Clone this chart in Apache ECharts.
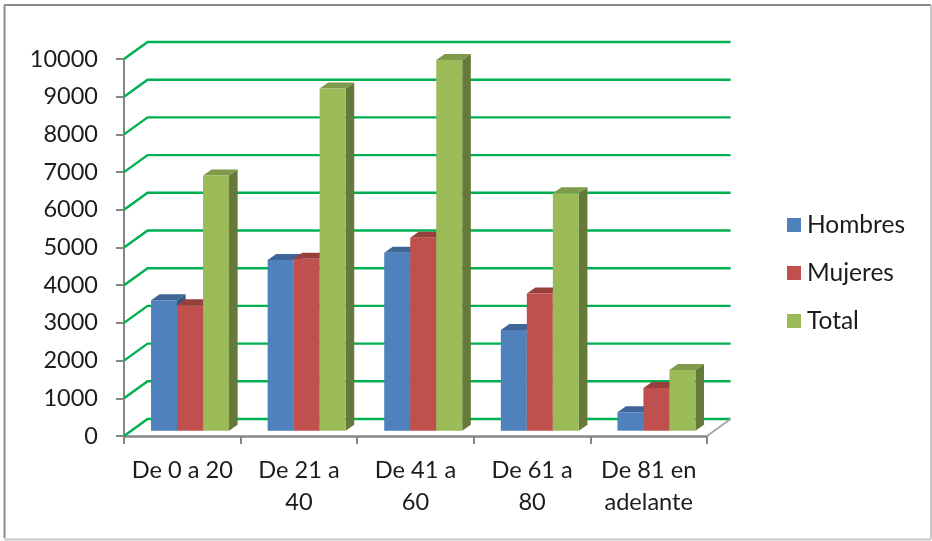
<!DOCTYPE html>
<html>
<head>
<meta charset="utf-8">
<style>html,body{margin:0;padding:0;background:#fff}#c{width:932px;height:541px}</style>
<script src="https://cdn.jsdelivr.net/npm/echarts@6/dist/echarts.min.js"></script>
</head>
<body>
<div id="c"></div>
<script>
const categories = ['De 0 a 20', 'De 21 a\n40', 'De 41 a\n60', 'De 61 a\n80', 'De 81 en\nadelante'];
const hombres = [3460, 4530, 4720, 2670, 490];
const mujeres = [3330, 4560, 5120, 3640, 1130];
const total = [6770, 9080, 9830, 6300, 1610];
const gridValues = [0, 1000, 2000, 3000, 4000, 5000, 6000, 7000, 8000, 9000, 10000];

const FONT = 'Lato, "Open Sans", sans-serif';
const WALL_DX = 23.6, WALL_DY = 17;   // how far the back wall sits behind the axis plane
const PLANE_DX = 7.2, PLANE_DY = 5.3; // how far the bars sit behind the axis plane
const SIDE_DX = 8.6, SIDE_DY = 6;     // depth of each bar
const GREEN_LINE = '#00b050', AXIS_GRAY = '#868686';

// One 3D column: side and top faces, then the front face.
function barRenderer(seriesIndex, front, top, side) {
  return function (params, api) {
    const cat = api.value(0), val = api.value(1);
    const band = api.size([1, 0])[0];
    const w = band * 0.223;
    const x0 = api.coord([cat, 0])[0] - band / 2 + band * 0.17 + PLANE_DX + seriesIndex * w;
    const x1 = x0 + w;
    const yb = api.coord([cat, 0])[1] - PLANE_DY;
    const yt = api.coord([cat, val])[1] - PLANE_DY;
    return {
      type: 'group',
      children: [
        { type: 'polygon', shape: { points: [[x1, yt], [x1 + SIDE_DX, yt - SIDE_DY], [x1 + SIDE_DX, yb - SIDE_DY], [x1, yb]] }, style: { fill: side } },
        { type: 'polygon', shape: { points: [[x0, yt], [x0 + SIDE_DX, yt - SIDE_DY], [x1 + SIDE_DX, yt - SIDE_DY], [x1, yt]] }, style: { fill: top } },
        { type: 'rect', shape: { x: x0, y: yt, width: w, height: yb - yt }, style: { fill: front } }
      ]
    };
  };
}

function barSeries(name, idx, values, front, top, side) {
  return {
    name, type: 'custom', z: 5 + idx, silent: true,
    itemStyle: { color: front },
    encode: { x: 0, y: 1 },
    data: values.map((v, i) => [i, v]),
    renderItem: barRenderer(idx, front, top, side)
  };
}

const chart = echarts.init(document.getElementById('c'), null, { renderer: 'canvas' });
chart.setOption({
  animation: false,
  backgroundColor: '#fff',
  grid: { left: 124, right: 225, top: 59, bottom: 105, containLabel: false },
  legend: {
    orient: 'vertical', left: 787, top: 211, padding: 0, icon: 'rect',
    itemWidth: 14, itemHeight: 14, itemGap: 20, selectedMode: false,
    textStyle: { fontFamily: FONT, fontSize: 24.5, color: '#1c1c1c', lineHeight: 28, padding: [0, 0, 0, 1] },
    data: ['Hombres', 'Mujeres', 'Total']
  },
  xAxis: {
    type: 'category', data: categories,
    axisLine: { lineStyle: { color: AXIS_GRAY, width: 2.5 } },
    axisTick: { show: true, length: 8, alignWithLabel: false, lineStyle: { color: AXIS_GRAY, width: 2 } },
    axisLabel: { interval: 0, margin: 18, fontFamily: FONT, fontSize: 23.6, lineHeight: 32, color: '#1c1c1c', verticalAlign: 'top' }
  },
  yAxis: {
    type: 'value', min: 0, max: 10000, interval: 1000,
    axisLine: { show: true, lineStyle: { color: AXIS_GRAY, width: 2 } },
    axisTick: { show: true, length: 8, lineStyle: { color: AXIS_GRAY, width: 2 } },
    splitLine: { show: false },
    axisLabel: { margin: 26, fontFamily: FONT, fontSize: 23.5, color: '#1c1c1c', padding: [3, 0, 0, 0], formatter: v => String(v) }
  },
  graphic: [
    { type: 'line', shape: { x1: 4.5, y1: 5, x2: 4.5, y2: 538 }, style: { stroke: '#8c8c8c', lineWidth: 2 } },
    { type: 'line', shape: { x1: 4, y1: 5, x2: 931, y2: 5 }, style: { stroke: '#8c8c8c', lineWidth: 2 } },
    { type: 'line', shape: { x1: 931, y1: 5, x2: 931, y2: 539 }, style: { stroke: '#b8b8b8', lineWidth: 1.5 } },
    { type: 'line', shape: { x1: 4, y1: 539.5, x2: 931, y2: 539.5 }, style: { stroke: '#c8c8c8', lineWidth: 2 } }
  ],
  series: [
    {
      // Wall gridlines: each runs back from the value axis, then across the back wall.
      type: 'custom', z: 1, silent: true, name: 'rejilla',
      encode: { y: 0 },
      data: gridValues.map(v => [v]),
      renderItem(params, api) {
        const v = api.value(0);
        const band = api.size([1, 0])[0];
        const left = api.coord([0, v]);
        const right = api.coord([categories.length - 1, v])[0] + band / 2;
        const xl = left[0] - band / 2;
        const y = left[1];
        return {
          type: 'polyline',
          shape: { points: [[xl, y], [xl + WALL_DX, y - WALL_DY], [right + WALL_DX, y - WALL_DY]] },
          style: { fill: null, stroke: GREEN_LINE, lineWidth: 2.4 }
        };
      }
    },
    {
      // Right-hand edge of the floor.
      type: 'custom', z: 2, silent: true, name: 'suelo',
      encode: { y: 0 },
      data: [[0]],
      renderItem(params, api) {
        const band = api.size([1, 0])[0];
        const p = api.coord([categories.length - 1, 0]);
        const x = p[0] + band / 2;
        return {
          type: 'line',
          shape: { x1: x, y1: p[1], x2: x + WALL_DX, y2: p[1] - WALL_DY },
          style: { stroke: '#a6a6a6', lineWidth: 2 }
        };
      }
    },
    barSeries('Hombres', 0, hombres, '#4f81bd', '#3e6596', '#35577f'),
    barSeries('Mujeres', 1, mujeres, '#c0504d', '#983f3d', '#823634'),
    barSeries('Total', 2, total, '#9bbb59', '#7f9a4a', '#65793a')
  ]
});
</script>
</body>
</html>
